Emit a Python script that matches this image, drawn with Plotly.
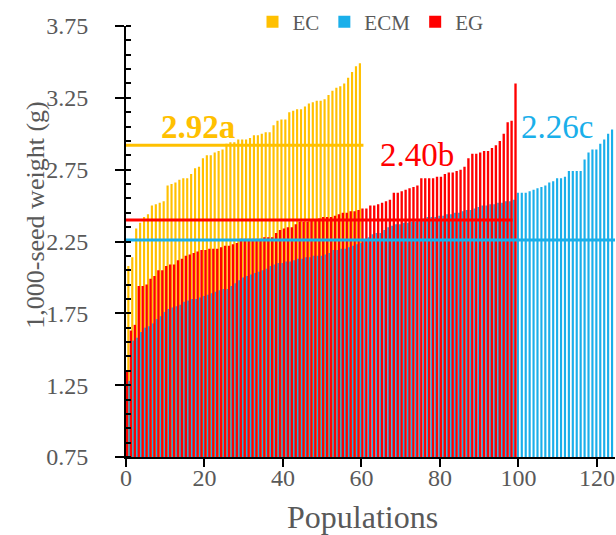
import plotly.graph_objects as go

# 1,000-seed weight (g) of each population, sorted ascending within group
ec = [2.08, 2.14, 2.34, 2.38, 2.42, 2.44, 2.50, 2.51, 2.52, 2.53,
      2.64, 2.65, 2.66, 2.68, 2.69, 2.69, 2.72, 2.76, 2.77, 2.83,
      2.85, 2.85, 2.87, 2.88, 2.89, 2.93, 2.94, 2.94, 2.96, 2.96,
      2.96, 2.97, 2.99, 2.99, 3.00, 3.01, 3.01, 3.06, 3.09, 3.10,
      3.10, 3.15, 3.16, 3.17, 3.17, 3.19, 3.21, 3.22, 3.23, 3.23,
      3.24, 3.27, 3.30, 3.32, 3.33, 3.35, 3.39, 3.43, 3.47, 3.49]

ecm = [1.28, 1.56, 1.58, 1.62, 1.65, 1.66, 1.68, 1.71, 1.73, 1.76,
       1.78, 1.79, 1.80, 1.81, 1.83, 1.84, 1.85, 1.85, 1.86, 1.87,
       1.88, 1.89, 1.90, 1.91, 1.92, 1.92, 1.94, 1.96, 1.98, 2.00,
       2.01, 2.02, 2.03, 2.04, 2.05, 2.06, 2.08, 2.09, 2.10, 2.10,
       2.11, 2.11, 2.12, 2.13, 2.13, 2.14, 2.14, 2.15, 2.15, 2.15,
       2.16, 2.17, 2.19, 2.19, 2.20, 2.20, 2.21, 2.22, 2.23, 2.24,
       2.26, 2.28, 2.30, 2.31, 2.31, 2.33, 2.35, 2.36, 2.37, 2.37,
       2.38, 2.38, 2.39, 2.39, 2.40, 2.41, 2.42, 2.42, 2.42, 2.43,
       2.43, 2.44, 2.44, 2.45, 2.45, 2.46, 2.47, 2.47, 2.48, 2.49,
       2.50, 2.50, 2.51, 2.51, 2.52, 2.52, 2.53, 2.53, 2.54, 2.59,
       2.59, 2.59, 2.60, 2.61, 2.62, 2.63, 2.64, 2.66, 2.67, 2.69,
       2.69, 2.70, 2.74, 2.74, 2.74, 2.74, 2.82, 2.87, 2.89, 2.89,
       2.93, 2.96, 3.00, 3.03]

eg = [1.35, 1.63, 1.67, 1.94, 1.94, 1.95, 1.99, 2.01, 2.05, 2.05,
      2.08, 2.09, 2.09, 2.12, 2.13, 2.15, 2.16, 2.17, 2.18, 2.19,
      2.19, 2.20, 2.20, 2.20, 2.21, 2.22, 2.22, 2.23, 2.24, 2.27,
      2.27, 2.27, 2.27, 2.27, 2.27, 2.28, 2.28, 2.28, 2.31, 2.33,
      2.34, 2.35, 2.35, 2.37, 2.39, 2.39, 2.39, 2.40, 2.40, 2.41,
      2.42, 2.42, 2.42, 2.43, 2.44, 2.45, 2.45, 2.46, 2.46, 2.47,
      2.48, 2.48, 2.50, 2.50, 2.51, 2.52, 2.53, 2.54, 2.59, 2.59,
      2.60, 2.61, 2.62, 2.63, 2.64, 2.69, 2.69, 2.69, 2.69, 2.70,
      2.70, 2.72, 2.73, 2.73, 2.74, 2.75, 2.77, 2.83, 2.86, 2.86,
      2.87, 2.88, 2.88, 2.90, 2.92, 2.95, 3.00, 3.08, 3.09, 3.35]

# group means with significance letters
groups = ["EC", "ECM", "EG"]
means = [2.92, 2.26, 2.40]
mean_labels = ["2.92a", "2.26c", "2.40b"]
mean_extent = [60.5, 124.6, 98.5]

colors = {"EC": "#FFC000", "ECM": "#1AAFEA", "EG": "#FF0000"}
FONT = "Liberation Serif, Times New Roman, serif"
GREY = "#595959"
W = 0.55
W_EG = 0.6

fig = go.Figure()
fig.add_trace(go.Bar(x=list(range(len(ec))), y=ec, name="EC",
                     marker=dict(color=colors["EC"], line_width=0),
                     width=W, offset=0.6 - W / 2, base=0))
fig.add_trace(go.Bar(x=list(range(len(ecm))), y=ecm, name="ECM",
                     marker=dict(color=colors["ECM"], line_width=0),
                     width=W, offset=0.85 - W / 2, base=0))
fig.add_trace(go.Bar(x=list(range(len(eg))), y=eg, name="EG",
                     marker=dict(color=colors["EG"], line_width=0),
                     width=W_EG, offset=0.25 - W_EG / 2, base=0))

# mean lines
for g, m, xe in zip(groups, means, mean_extent):
    fig.add_trace(go.Scatter(x=[0, xe], y=[m, m], mode="lines",
                             line=dict(color=colors[g], width=3),
                             showlegend=False, hoverinfo="skip"))

# mean labels
label_pos = {"EC": (18.3, 3.05, True), "EG": (74.1, 2.85, False),
             "ECM": (109.8, 3.05, False)}
for g, lab in zip(groups, mean_labels):
    x, y, bold = label_pos[g]
    fig.add_annotation(x=x, y=y, text=f"<b>{lab}</b>" if bold else lab,
                       showarrow=False, xanchor="center", yanchor="middle",
                       font=dict(family=FONT, size=33, color=colors[g]))

fig.add_annotation(xref="paper", yref="paper", x=-0.185, y=0.561,
                   text="1,000-seed weight (g)", textangle=-90,
                   showarrow=False, xanchor="center", yanchor="middle",
                   font=dict(family=FONT, size=26, color=GREY))
fig.add_annotation(xref="paper", yref="paper", x=0.483, y=-0.139,
                   text="Populations", showarrow=False,
                   xanchor="center", yanchor="middle",
                   font=dict(family=FONT, size=32, color=GREY))

fig.update_layout(
    width=616, height=535,
    margin=dict(l=126, r=1, t=26, b=78, autoexpand=False),
    barmode="overlay",
    plot_bgcolor="white", paper_bgcolor="white",
    font=dict(family=FONT, color=GREY),
    legend=dict(orientation="h", x=0.50, xanchor="center", y=1.009,
                yanchor="middle", font=dict(size=21, color=GREY, family=FONT),
                itemwidth=30, traceorder="normal"),
    xaxis=dict(range=[0, 124.6], tickmode="linear", tick0=0, dtick=20,
               showline=True, linecolor="black", linewidth=2,
               ticks="outside", ticklen=8, tickwidth=2, tickcolor="black",
               ticklabelstandoff=-10,
               showgrid=False, zeroline=False,
               tickfont=dict(size=24, color=GREY, family=FONT)),
    yaxis=dict(range=[0.75, 3.75], tickmode="linear", tick0=0.75, dtick=0.5,
               tickformat=".2f",
               showline=True, linecolor="black", linewidth=2,
               ticks="outside", ticklen=9, tickwidth=2, tickcolor="black",
               minor=dict(tick0=0.75, dtick=0.1, ticks="inside", ticklen=5,
                          tickwidth=2, tickcolor="black"),
               ticklabelstandoff=22,
               showgrid=False, zeroline=False,
               tickfont=dict(size=24, color=GREY, family=FONT)),
)

fig.write_html("out.html")
